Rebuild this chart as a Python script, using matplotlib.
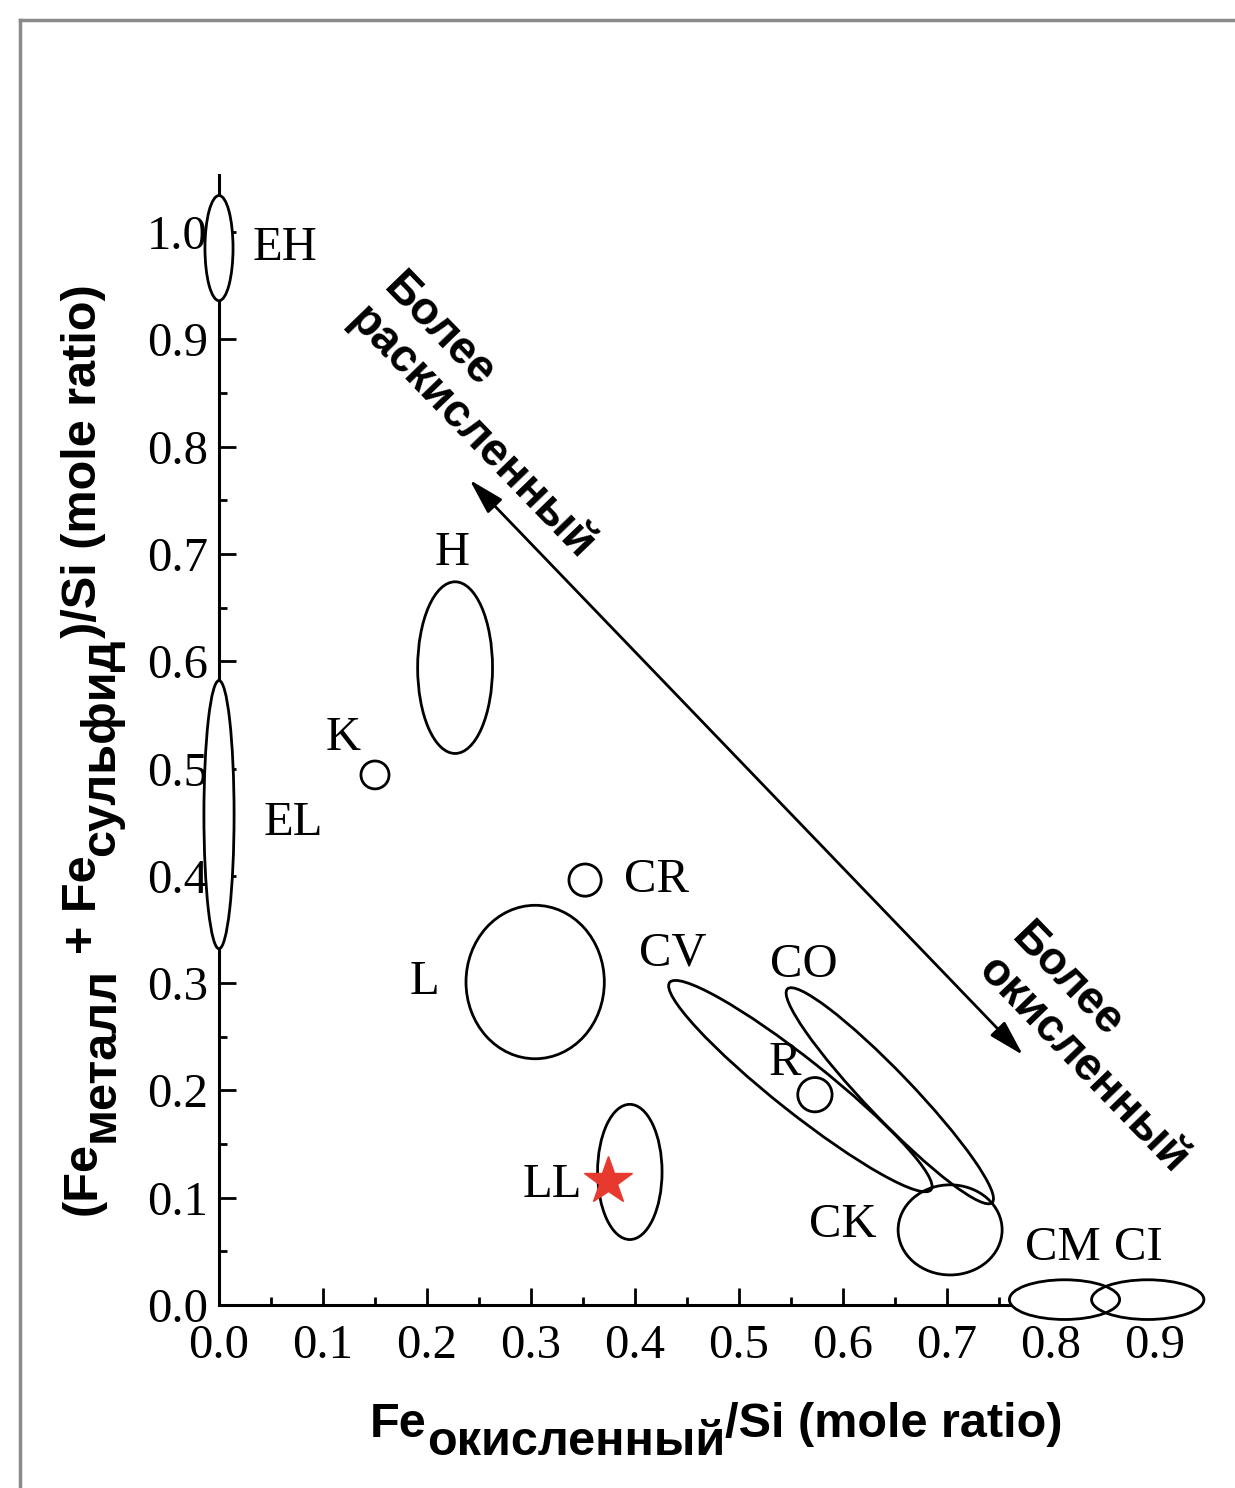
import matplotlib
matplotlib.use('Agg')
import matplotlib.pyplot as plt
from matplotlib.patches import Ellipse
from matplotlib.lines import Line2D

# meteorite groups: region centre, size and tilt (data units)
groups = ['EH', 'EL', 'H', 'K', 'L', 'CR', 'LL', 'CV', 'CO', 'R', 'CK', 'CM', 'CI']
cx = [0.0, 0.0, 0.227, 0.150, 0.304, 0.352, 0.395, 0.559, 0.645, 0.573, 0.703, 0.813, 0.893]
cy = [0.985, 0.457, 0.594, 0.494, 0.301, 0.396, 0.124, 0.204, 0.195, 0.196, 0.070, 0.005, 0.005]
ew = [0.027, 0.029, 0.072, 0.027, 0.133, 0.031, 0.062, 0.317, 0.280, 0.033, 0.100, 0.106, 0.108]
eh = [0.098, 0.250, 0.160, 0.026, 0.143, 0.030, 0.126, 0.050, 0.044, 0.032, 0.084, 0.037, 0.037]
ang = [0, 0, 0, 0, 0, 0, 0, -37.5, -45.3, 0, 0, 0, 0]

# where each group name is written
lab_x = [0.063, 0.071, 0.224, 0.119, 0.198, 0.421, 0.321, 0.436, 0.562, 0.544, 0.600, 0.811, 0.884]
lab_y = [0.985, 0.449, 0.701, 0.528, 0.301, 0.396, 0.112, 0.328, 0.317, 0.226, 0.075, 0.053, 0.053]

# the studied sample (red star)
star_x = [0.374]
star_y = [0.116]

# redox arrow end points
arrow_start = (0.241, 0.769)
arrow_end = (0.773, 0.233)

xticks = [0.0, 0.1, 0.2, 0.3, 0.4, 0.5, 0.6, 0.7, 0.8, 0.9]
yticks = [0.0, 0.1, 0.2, 0.3, 0.4, 0.5, 0.6, 0.7, 0.8, 0.9, 1.0]

plt.rcParams['font.family'] = ['Liberation Serif', 'DejaVu Serif']

W, H = 1235, 1488
fig = plt.figure(figsize=(W / 100, H / 100), dpi=100)
ax = fig.add_axes([219 / W, 1 - 1305 / H, 1040 * 0.94 / W, 1073 * 1.053 / H])
ax.set_xlim(0, 0.94)
ax.set_ylim(0, 1.053)

for s in ['top', 'right']:
    ax.spines[s].set_visible(False)
for s in ['left', 'bottom']:
    ax.spines[s].set_linewidth(2.2)

ax.set_xticks(xticks)
ax.set_yticks(yticks)
ax.set_xticklabels(['%.1f' % v for v in xticks])
ax.set_yticklabels(['%.1f' % v for v in yticks])
ax.set_xticks([v + 0.05 for v in xticks[:-1]], minor=True)
ax.set_yticks([v + 0.05 for v in yticks[:-1]], minor=True)
ax.tick_params(which='major', direction='in', length=12, width=2, labelsize=35)
ax.tick_params(which='minor', direction='in', length=6, width=2)
ax.tick_params(axis='x', pad=14)
ax.tick_params(axis='y', pad=8)

# white fill first (hides the axis lines), outlines on top
for i in range(len(groups)):
    ax.add_patch(Ellipse((cx[i], cy[i]), ew[i], eh[i], angle=ang[i],
                         facecolor='white', edgecolor='none', zorder=3, clip_on=False))
for i in range(len(groups)):
    ax.add_patch(Ellipse((cx[i], cy[i]), ew[i], eh[i], angle=ang[i],
                         facecolor='none', edgecolor='black', lw=2, zorder=4, clip_on=False))
    ax.text(lab_x[i], lab_y[i], groups[i], fontsize=35, ha='center', va='center', zorder=5)

ax.plot(star_x, star_y, marker='*', color='#e8392f', markersize=36, ls='none', zorder=6, clip_on=False)

ax.annotate('', xy=arrow_end, xytext=arrow_start,
            arrowprops=dict(arrowstyle='<|-|>,head_length=1.0,head_width=0.28',
                            lw=2, color='black', shrinkA=0, shrinkB=0, mutation_scale=22))

sans = dict(family='Liberation Sans', fontweight='bold')
ax.text(0.126, 0.918, 'Более\nраскисленный', rotation=-46, rotation_mode='anchor',
        ha='left', va='baseline', fontsize=33, linespacing=1.1, **sans)
ax.text(0.730, 0.313, 'Более\nокисленный', rotation=-46, rotation_mode='anchor',
        ha='left', va='baseline', fontsize=33, linespacing=1.1, **sans)

# axis titles with large subscripts, built piece by piece
SUB = 13
FS = 35


def chain(pieces, x0, y0, rot):
    prev = None
    level = 0
    for txt, sub, gap in pieces:
        shift = (sub - level) * SUB
        if prev is None:
            if rot:
                prev = fig.text(x0, y0, txt, rotation=90, ha='right', va='bottom', fontsize=FS, **sans)
            else:
                prev = fig.text(x0, y0, txt, ha='left', va='bottom', fontsize=FS, **sans)
        elif rot:
            prev = ax.annotate(txt, xy=(1, 1), xycoords=prev, xytext=(shift, gap),
                               textcoords='offset points', rotation=90, ha='right',
                               va='bottom', fontsize=FS, annotation_clip=False, **sans)
        else:
            prev = ax.annotate(txt, xy=(1, 0), xycoords=prev, xytext=(gap, -shift),
                               textcoords='offset points', ha='left', va='bottom',
                               fontsize=FS, annotation_clip=False, **sans)
        level = sub


chain([('Fe', 0, 0), ('окисленный', 1, 0), ('/Si (mole ratio)', 0, 0)],
      370 / W, 1 - 1447 / H, False)
chain([('(Fe', 0, 0), ('металл', 1, 0), ('+ Fe', 0, 9), ('сульфид', 1, 0),
       (')/Si (mole ratio)', 0, 0)],
      106 / W, 1 - 1215 / H, True)

# scanned page frame
fig.add_artist(Line2D([20 / W, 1], [1 - 20 / H, 1 - 20 / H], color='#8a8a8a', lw=2.5))
fig.add_artist(Line2D([20 / W, 20 / W], [0, 1 - 20 / H], color='#8a8a8a', lw=2.5))

fig.savefig('out.png', dpi=100)
